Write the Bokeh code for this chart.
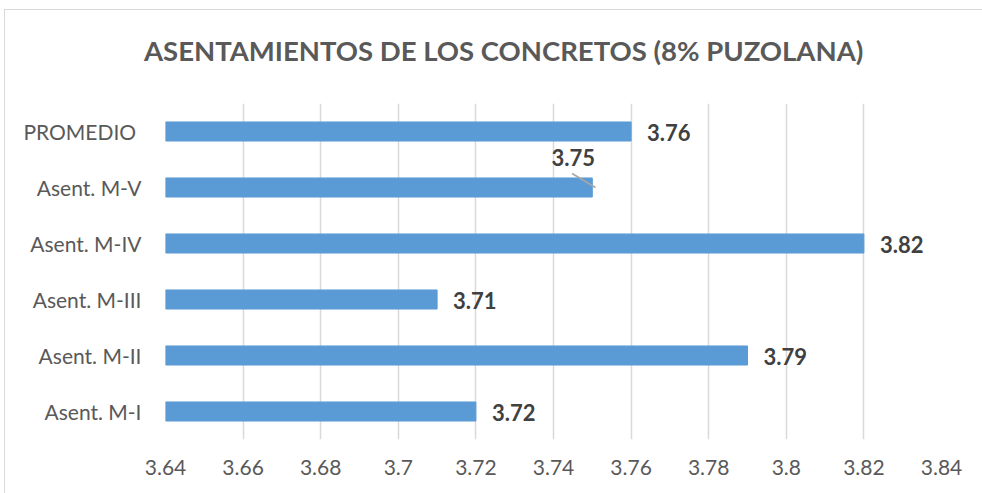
from bokeh.plotting import figure
from bokeh.models import ColumnDataSource, FixedTicker, Range1d, Div
from bokeh.layouts import column
from bokeh.core.properties import value
from bokeh.embed import file_html
from bokeh.resources import INLINE

categories = ["Asent. M-I", "Asent. M-II", "Asent. M-III", "Asent. M-IV", "Asent. M-V", "PROMEDIO "]
values = [3.72, 3.79, 3.71, 3.82, 3.75, 3.76]
label_texts = ["3.72", "3.79", "3.71", "3.82", "3.75", "3.76"]
x_ticks = [3.64, 3.66, 3.68, 3.70, 3.72, 3.74, 3.76, 3.78, 3.80, 3.82, 3.84]
x_tick_labels = ["3.64", "3.66", "3.68", "3.7", "3.72", "3.74", "3.76", "3.78", "3.8", "3.82", "3.84"]
title_text = "ASENTAMIENTOS DE LOS CONCRETOS (8% PUZOLANA)"

X_MIN, X_MAX = 3.64, 3.84
FONT = "Lato"

idx = list(range(len(categories)))
base = [X_MIN] * len(values)

W = 978
TITLE_H = 60
H = 424
p = figure(width=W, height=H, output_backend="svg", toolbar_location=None,
           x_range=Range1d(X_MIN, X_MAX), y_range=Range1d(-0.5, len(categories) - 0.5),
           min_border_left=160, min_border_right=42, min_border_top=33, min_border_bottom=55)
p.outline_line_color = None
p.background_fill_color = "white"
p.border_fill_color = "white"

src = ColumnDataSource(dict(y=idx, left=base, right=values, txt=label_texts))
p.hbar(y="y", left="left", right="right", height=0.34, source=src,
       fill_color="#5b9bd5", line_color="#5b9bd5")

# normal labels (all except the M-V one, which sits above with a leader line)
normal = [i for i in idx if categories[i] != "Asent. M-V"]
special = [i for i in idx if categories[i] == "Asent. M-V"]
src_n = ColumnDataSource(dict(x=[values[i] for i in normal], y=[idx[i] for i in normal],
                              txt=[label_texts[i] for i in normal]))
p.text(x="x", y="y", text="txt", source=src_n, x_offset=16, y_offset=1,
       text_align="left", text_baseline="middle", text_font=value(FONT),
       text_font_style="bold", text_font_size="22px", text_color="#404040")

src_s = ColumnDataSource(dict(x=[values[i] for i in special], y=[idx[i] + 0.535 for i in special],
                              txt=[label_texts[i] for i in special]))
p.text(x="x", y="y", text="txt", source=src_s, x_offset=-19,
       text_align="center", text_baseline="middle", text_font=value(FONT),
       text_font_style="bold", text_font_size="22px", text_color="#404040")
p.segment(x0=[values[i] - 0.0052 for i in special], y0=[idx[i] + 0.25 for i in special],
          x1=[values[i] + 0.0008 for i in special], y1=[idx[i] for i in special],
          line_color="#a6a6a6", line_width=1.5)

# axes
p.xaxis.ticker = FixedTicker(ticks=x_ticks)
p.xaxis.major_label_overrides = {t: l for t, l in zip(x_ticks, x_tick_labels)}
p.yaxis.ticker = FixedTicker(ticks=idx)
p.yaxis.major_label_overrides = {i: c for i, c in zip(idx, categories)}
for ax in (p.xaxis, p.yaxis):
    ax.axis_line_color = None
    ax.major_tick_line_color = None
    ax.minor_tick_line_color = None
    ax.major_label_text_font = FONT
    ax.major_label_text_font_size = "21px"
    ax.major_label_text_color = "#595959"
p.xaxis.major_label_standoff = 14
p.yaxis.major_label_standoff = 18

p.xgrid.ticker = FixedTicker(ticks=x_ticks)
p.xgrid.grid_line_color = "#d9d9d9"
p.xgrid.grid_line_width = 1.5
p.ygrid.grid_line_color = None

title_div = Div(
    text=('<div style="text-align:left;font-family:Lato;font-weight:bold;'
          'font-size:27.5px;line-height:33px;color:#595959;padding-top:24px;'
          'padding-left:139px;white-space:nowrap;">' + title_text + '</div>'),
    width=W, height=TITLE_H, margin=0,
    styles={"background-color": "white"})

layout = column(title_div, p, spacing=0,
                styles={"border": "1px solid #d9d9d9", "margin-left": "4px",
                        "margin-top": "9px", "background-color": "white"})

open("out.html", "w").write(file_html(layout, INLINE))
